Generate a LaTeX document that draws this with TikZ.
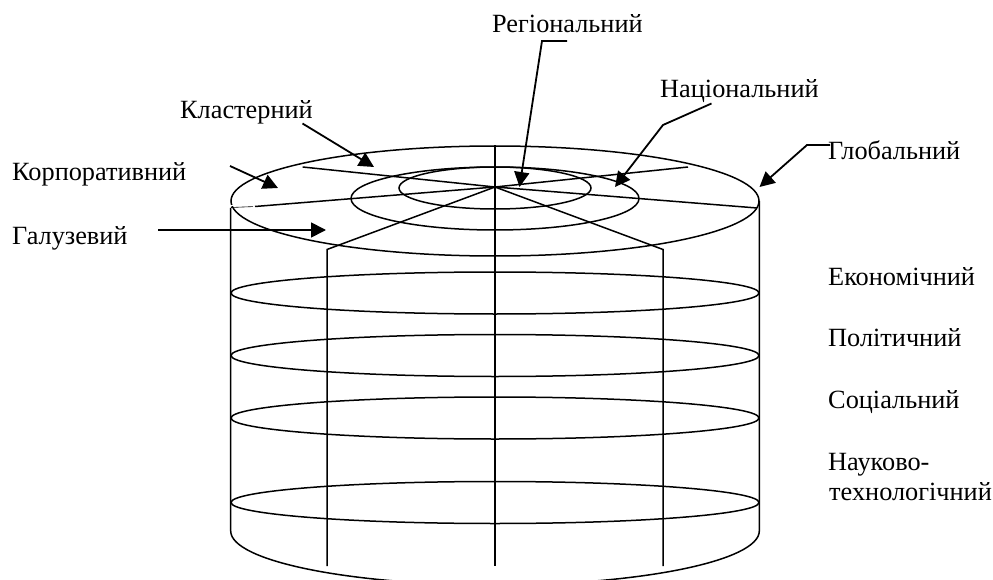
\documentclass[tikz,border=0pt]{standalone}
\usepackage{fontspec}
\setmainfont{Liberation Serif}
\usetikzlibrary{arrows.meta}
\tikzset{
  lab/.style={anchor=base west,inner sep=0pt,font=\fontsize{26.3}{30}\selectfont},
  frame/.style={draw=black,line width=1.5pt},
  ptr/.style={draw=black,line width=1.8pt,-{Triangle[length=15pt,width=15pt]}}
}
\begin{document}
\begin{tikzpicture}[x=1pt,y=-1pt]
\useasboundingbox (0,0) rectangle (993,580);
\clip (0,0) rectangle (993,580);
% named coordinates
\coordinate (c) at (495,187);
\coordinate (tl) at (302.6,167);
\coordinate (tr) at (688,167);
\coordinate (ml) at (255,206.5);
\coordinate (mlo) at (231,207.5);
\coordinate (mr) at (757,208);
\coordinate (fl) at (327,249.5);
\coordinate (fr) at (663,249.5);
\coordinate (ft) at (495,146);
% ellipses
\draw[frame] (495,201) ellipse [x radius=264,y radius=55];
\draw[frame] (495,198.5) ellipse [x radius=144,y radius=31.5];
\draw[frame] (495,188) ellipse [x radius=96,y radius=21];
\foreach \yy in {293,355.5,418,502.5}
  \draw[frame] (495,\yy) ellipse [x radius=264,y radius=21];
% spokes
\draw[frame] (tl) -- (c) -- (tr);
\draw[frame] (ml) -- (c) -- (mr);
\draw[draw=black,line width=0.6pt] (mlo) -- (253,206.6);
\draw[draw=white,line width=1.5pt] (230,205.5) -- (236,205.5);
\draw[frame] (327,566) -- (fl) -- (c) -- (fr) -- (663,566);
\draw[frame] (ft) -- (495,566);
% outer walls and the bottom
\draw[frame] (230.7,208) -- (230.7,531)
  arc[start angle=180,end angle=0,x radius=264.3,y radius=54] -- (759.3,201);
% labels
\node[lab] (reg) at (492,33) {Регіональний};
\node[lab] (nat) at (660,97.5) {Національний};
\node[lab] (kla) at (180,118.5) {Кластерний};
\node[lab] (kor) at (12,180.5) {Корпоративний};
\node[lab] (gal) at (12,244) {Галузевий};
\node[lab] (glo) at (828,160) {Глобальний};
\node[lab] (eko) at (828,285) {Економічний};
\node[lab] (pol) at (828,346) {Політичний};
\node[lab] (soc) at (828,408) {Соціальний};
\node[lab] (nau) at (828,470) {Науково-};
\node[lab] (tex) at (829,500.5) {технологічний};
% pointers
\coordinate (a1) at (567,41); \coordinate (a2) at (542,41); \coordinate (a3) at (519.5,187);
\draw[ptr] (a1) -- (a2) -- (a3);
\coordinate (b1) at (711.5,103.5); \coordinate (b2) at (663,125); \coordinate (b3) at (615,187);
\draw[ptr] (b1) -- (b2) -- (b3);
\coordinate (g1) at (830,145); \coordinate (g2) at (807,145); \coordinate (g3) at (759.5,187);
\draw[ptr] (g1) -- (g2) -- (g3);
\coordinate (k1) at (302.5,123.5); \coordinate (k3) at (374,167);
\draw[ptr] (k1) -- (k3);
\coordinate (p1) at (230,166); \coordinate (p3) at (278,188);
\draw[ptr] (p1) -- (p3);
\coordinate (q1) at (158,230); \coordinate (q3) at (326,230);
\draw[ptr] (q1) -- (q3);
\end{tikzpicture}
\end{document}
